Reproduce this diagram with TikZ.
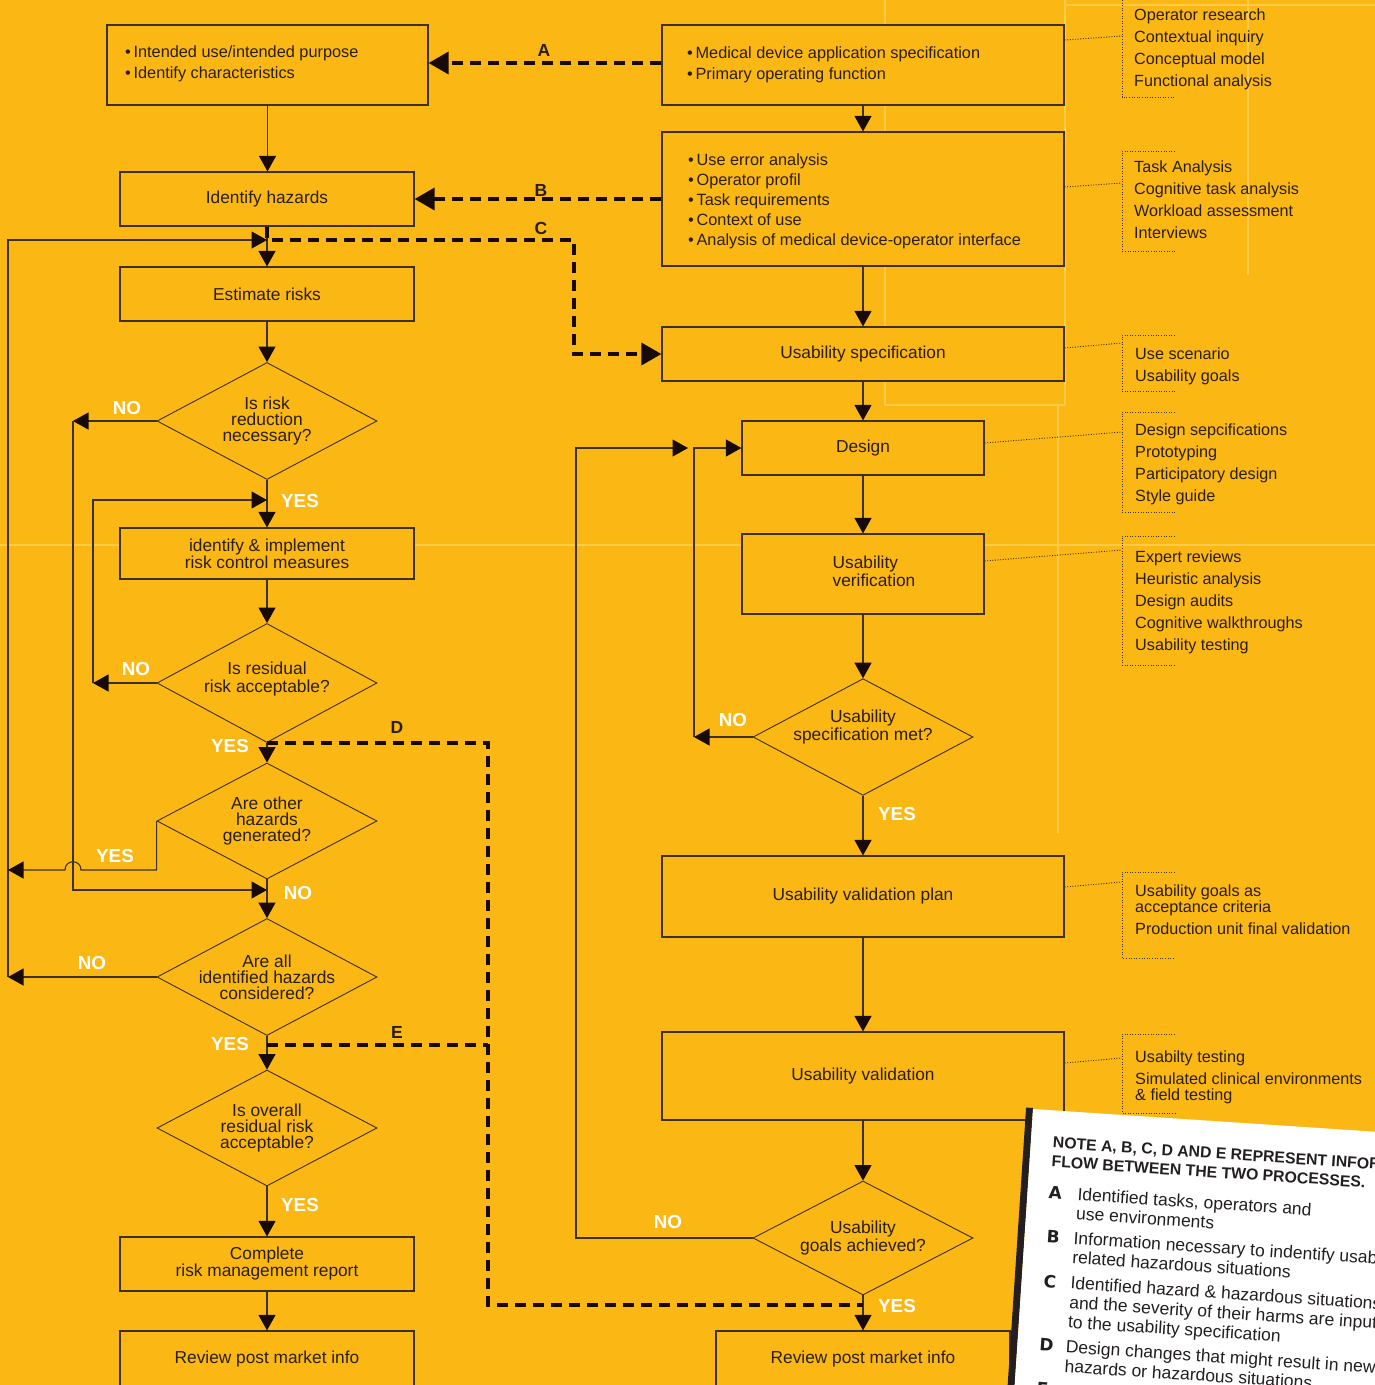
\documentclass[tikz,border=0pt]{standalone}
\usepackage{fontspec}
\setmainfont{Liberation Sans}
\newfontfamily\heavyfont{DejaVu Sans}
\usetikzlibrary{shapes.geometric,arrows.meta}
\definecolor{bgorange}{RGB}{251,184,21}
\definecolor{faint}{RGB}{253,202,74}
\definecolor{inkline}{RGB}{62,48,30}
\definecolor{inktext}{RGB}{42,30,16}
\definecolor{tipblack}{RGB}{24,10,6}
\definecolor{cardink}{RGB}{35,31,32}
\newcommand\boxfont{\fontsize{17.3}{17}\selectfont}
\newcommand\diafont{\fontsize{17.4}{16}\selectfont}
\newcommand\bulfont{\fontsize{16.3}{21}\selectfont}
\newcommand\notefont{\fontsize{16.2}{22}\selectfont}
\newcommand\ynfont{\fontsize{18.8}{19}\selectfont\bfseries}
\newcommand\letfont{\fontsize{17.5}{18}\selectfont\bfseries}
\newcommand\cardheadfont{\fontsize{15.8}{19}\selectfont\bfseries}
\newcommand\cardletfont{\heavyfont\bfseries\fontsize{17}{18}\selectfont}
\newcommand\cardbodyfont{\fontsize{17.5}{19.5}\selectfont}
\tikzset{
  box/.style={draw=inkline, fill=bgorange, line width=1.2pt, minimum width=294pt, minimum height=54pt, inner sep=0pt, font=\boxfont, text=inktext, align=center},
  wbox/.style={box, minimum width=402pt},
  dia/.style={diamond, draw=inkline, fill=bgorange, line width=0.9pt, aspect=1.85, minimum width=220pt, minimum height=117pt, inner sep=-4pt, font=\diafont, text=inktext, align=center},
  flow/.style={draw=inkline, line width=1.1pt, -{Triangle[length=15.5pt,width=17pt,color=tipblack]}},
  dline/.style={draw=tipblack, line width=3.4pt, dash pattern=on 11pt off 7pt},
  dflow/.style={dline, -{Triangle[length=20pt,width=22pt,color=tipblack]}},
  yn/.style={text=white, font=\ynfont, inner sep=0pt},
  flowletter/.style={text=inktext, font=\letfont, inner sep=0pt},
  bul/.style={font=\bulfont, text=inktext, align=left, anchor=west, inner sep=0pt},
  notetext/.style={font=\notefont, text=inktext, align=left, anchor=west, inner sep=0pt},
  lead/.style={draw=inkline, line width=0.9pt, dash pattern=on 1pt off 1.6pt},
  cardhead/.style={font=\cardheadfont, text=cardink, align=left, anchor=north west, inner sep=0pt},
  cardletter/.style={font=\cardletfont, text=cardink, anchor=base west, inner sep=0pt},
  cardbody/.style={font=\cardbodyfont, text=cardink, align=left, anchor=north west, inner sep=0pt},
}
\begin{document}
\begin{tikzpicture}[x=1pt,y=-1pt]
\useasboundingbox (0,0) rectangle (1375,1385);
\fill[bgorange] (0,0) rectangle (1375,1385);
\clip (0,0) rectangle (1375,1385);
\draw[faint,line width=1.2pt] (1065,0) -- (1065,405);
\draw[faint,line width=1.2pt] (1248,0) -- (1248,275);
\draw[faint,line width=1.2pt] (1065,5) -- (1375,5);
\draw[faint,line width=1.2pt] (885,0) -- (885,405) -- (1065,405);
\draw[faint,line width=1.2pt] (1058,405) -- (1058,833);
\draw[faint,line width=1.2pt] (0,545) -- (1375,545);

\node[box, minimum width=321pt, minimum height=80pt] (intend) at (267.5,65) {};
\node[bul] (intendtxt) at (125,64) {\textbullet\,Intended use/intended purpose\\\textbullet\,Identify characteristics};
\node[box] (hz) at (267,199) {Identify hazards};
\node[box] (est) at (267,294) {Estimate risks};
\node[dia] (q1) at (267,421) {Is risk\\reduction\\necessary?};
\node[box, minimum height=51pt] (ctrl) at (267,553.5) {identify \& implement\\risk control measures};
\node[dia, minimum height=119pt] (q2) at (267,683) {\raisebox{20pt}{\begin{tabular}{@{}c@{}}Is residual\\risk acceptable?\end{tabular}}};
\node[dia, minimum height=116pt] (q3) at (267,821) {Are other\\hazards\\generated?};
\node[dia] (q4) at (267,977) {Are all\\identified hazards\\considered?};
\node[dia, minimum height=116pt] (q5) at (267,1128) {Is overall\\residual risk\\acceptable?};
\node[box] (rep) at (267,1264) {Complete\\risk management report};
\node[box, minimum height=56pt] (rev1) at (267,1359) {Review post market info};

\node[wbox, minimum height=80pt] (medspec) at (863,65) {};
\node[bul] (medspectxt) at (687,65) {\textbullet\,Medical device application specification\\\textbullet\,Primary operating function};
\node[wbox, minimum height=134pt] (useerr) at (863,199) {};
\node[bul, font={\fontsize{16.3}{20}\selectfont}] (useerrtxt) at (688,201) {\textbullet\,Use error analysis\\\textbullet\,Operator profil\\\textbullet\,Task requirements\\\textbullet\,Context of use\\\textbullet\,Analysis of medical device-operator interface};
\node[wbox] (spec) at (863,354) {Usability specification};
\node[box, minimum width=242pt] (design) at (863,448) {Design};
\node[box, minimum width=242pt, minimum height=80pt] (verif) at (863,574) {\hspace*{22pt}\begin{tabular}{@{}l@{}}Usability\\verification\end{tabular}};
\node[dia, minimum height=116pt] (q6) at (863,737) {\raisebox{32pt}{\begin{tabular}{@{}c@{}}Usability\\specification met?\end{tabular}}};
\node[wbox, minimum height=81pt] (vplan) at (863,896.5) {Usability validation plan};
\node[wbox, minimum height=88pt] (valid) at (863,1076) {Usability validation};
\node[dia, minimum height=114pt] (q7) at (863,1238) {Usability\\goals achieved?};
\node[box, minimum height=56pt] (rev2) at (863,1359) {Review post market info};

\node[notetext] (n1) at (1134,49.8) {Operator research\\Contextual inquiry\\Conceptual model\\Functional analysis};
\node[notetext] (n2) at (1134,200.1) {Task Analysis\\Cognitive task analysis\\Workload assessment\\Interviews};
\node[notetext] (n3) at (1135,366.8) {Use scenario\\Usability goals};
\node[notetext] (n4) at (1135,464.8) {Design sepcifications\\Prototyping\\Participatory design\\Style guide};
\node[notetext] (n5) at (1135,602.3) {Expert reviews\\Heuristic analysis\\Design audits\\Cognitive walkthroughs\\Usability testing};
\node[notetext, font={\fontsize{16.2}{16}\selectfont}] (n6) at (1135,910.1) {Usability goals as\\acceptance criteria\\[6pt]Production unit final validation};
\node[notetext, font={\fontsize{16.2}{16}\selectfont}] (n7) at (1135,1076.8) {Usabilty testing\\[6pt]Simulated clinical environments\\\& field testing};

\draw[lead] (medspec.east |- 0,40) -- (1122,36);
\draw[lead] (1122,0) -- (1122,97) -- (1175,97);
\draw[lead] (useerr.east |- 0,187) -- (1122,183);
\draw[lead] (1175,151) -- (1122,151) -- (1122,251) -- (1175,251);
\draw[lead] (spec.east |- 0,348) -- (1122,343);
\draw[lead] (1175,335) -- (1122,335) -- (1122,391) -- (1175,391);
\draw[lead] (design.east |- 0,443) -- (1122,432);
\draw[lead] (1175,412) -- (1122,412) -- (1122,512) -- (1175,512);
\draw[lead] (verif.east |- 0,561) -- (1122,550);
\draw[lead] (1175,536) -- (1122,536) -- (1122,665) -- (1175,665);
\draw[lead] (vplan.east |- 0,887) -- (1122,882);
\draw[lead] (1175,872) -- (1122,872) -- (1122,958) -- (1175,958);
\draw[lead] (valid.east |- 0,1063) -- (1122,1058);
\draw[lead] (1175,1034) -- (1122,1034) -- (1122,1113) -- (1175,1113);

\coordinate (jc) at (267,240);
\coordinate (ret3) at (8,870);
\coordinate (ret4) at (8,977);
\coordinate (noq1) at (73,421);
\coordinate (jq4) at (267,890);
\coordinate (noq2) at (93,683);
\coordinate (jctrl) at (267,500);
\coordinate (dturn) at (488,1305);
\coordinate (ejoin) at (267,1045);
\coordinate (noq6) at (694,737);
\coordinate (noq7) at (576,1238);
\coordinate (jdes) at (688,448);

\draw[flow] (intend.south) -- (intend.south |- hz.north);
\draw[flow] (hz.south) -- (est.north);
\draw[flow] (ret4) -- (ret4 |- jc) -- (jc);
\draw[flow] (est.south) -- (q1.north);
\draw[flow] (q1.west) -- (noq1);
\draw[flow] (noq1) -- (noq1 |- jq4) -- (jq4);
\draw[flow] (q1.south) -- (ctrl.north);
\draw[flow] (ctrl.south) -- (q2.north);
\draw[flow] (q2.west) -- (noq2);
\draw[flow] (noq2) -- (noq2 |- jctrl) -- (jctrl);
\draw[flow] (q2.south) -- (q3.north);
\draw[flow] (q3.west) -- (q3.west |- ret3) -- (81,870) .. controls (81,859) and (65,859) .. (65,870) -- (ret3);
\draw[flow] (q3.south) -- (q4.north);
\draw[flow] (q4.west) -- (ret4);
\draw[flow] (q4.south) -- (q5.north);
\draw[flow] (q5.south) -- (rep.north);
\draw[flow] (rep.south) -- (rev1.north);

\draw[flow] (medspec.south) -- (useerr.north);
\draw[flow] (useerr.south) -- (spec.north);
\draw[flow] (spec.south) -- (design.north);
\draw[flow] (design.south) -- (verif.north);
\draw[flow] (verif.south) -- (q6.north);
\draw[flow] (q6.west) -- (noq6);
\draw[flow] (noq6) -- (noq6 |- design) -- (design.west);
\draw[flow] (q6.south) -- (vplan.north);
\draw[flow] (vplan.south) -- (valid.north);
\draw[flow] (valid.south) -- (q7.north);
\draw[flow] (q7.west) -- (noq7) |- (jdes);
\draw[flow] (q7.south) -- (rev2.north);

\draw[dflow] (medspec.west |- 0,63) -- (intend.east |- 0,63);
\draw[dflow] (useerr.west |- hz) -- (hz.east);
\draw[dflow] (hz.south) -- (jc) -- (574,240) |- (spec.west);
\draw[dline] (q2.south) -| (dturn) -- (q7.south |- dturn);
\draw[dline] (ejoin) -- (dturn |- ejoin);

\node[yn] (noq1lbl) at (127,408) {NO};
\node[yn] (yesq1lbl) at (300,501) {YES};
\node[yn] (noq2lbl) at (136,669) {NO};
\node[yn] (yesq2lbl) at (230,746) {YES};
\node[yn] (yesq3lbl) at (115,856) {YES};
\node[yn] (noq3lbl) at (298,893) {NO};
\node[yn] (noq4lbl) at (92,963) {NO};
\node[yn] (yesq4lbl) at (230,1044) {YES};
\node[yn] (yesq5lbl) at (300,1205) {YES};
\node[yn] (noq6lbl) at (733,720) {NO};
\node[yn] (yesq6lbl) at (897,814) {YES};
\node[yn] (noq7lbl) at (668,1222) {NO};
\node[yn] (yesq7lbl) at (897,1306) {YES};

\node[flowletter] (fa) at (544,50) {A};
\node[flowletter] (fb) at (541,190) {B};
\node[flowletter] (fc) at (541,228) {C};
\node[flowletter] (fd) at (397,727) {D};
\node[flowletter] (fe) at (397,1032) {E};

\begin{scope}[shift={(1033,1109)}, rotate=-3.8, transform shape]
\fill[cardink] (-7,-1) rectangle (0,340);
\fill[white] (0,0) rectangle (420,340);
\node[cardhead] (cardtitle) at (22,26.3) {NOTE A, B, C, D AND E REPRESENT INFORMATION\\FLOW BETWEEN THE TWO PROCESSES.};
\node[cardletter] (ca) at (21,88) {A};
\node[cardbody] (cat) at (50,75.2) {Identified tasks, operators and\\use environments};
\node[cardletter] (cb) at (22,132) {B};
\node[cardbody] (cbt) at (49,119.2) {Information necessary to indentify usability\\related hazardous situations};
\node[cardletter] (cc) at (22,177) {C};
\node[cardbody] (cct) at (49,164.2) {Identified hazard \& hazardous situations\\and the severity of their harms are input\\to the usability specification};
\node[cardletter] (cd) at (22,241) {D};
\node[cardbody] (cdt) at (48.5,228.2) {Design changes that might result in new\\hazards or hazardous situations};
\node[cardletter] (ce) at (22,285) {E};
\end{scope}
\end{tikzpicture}
\end{document}
